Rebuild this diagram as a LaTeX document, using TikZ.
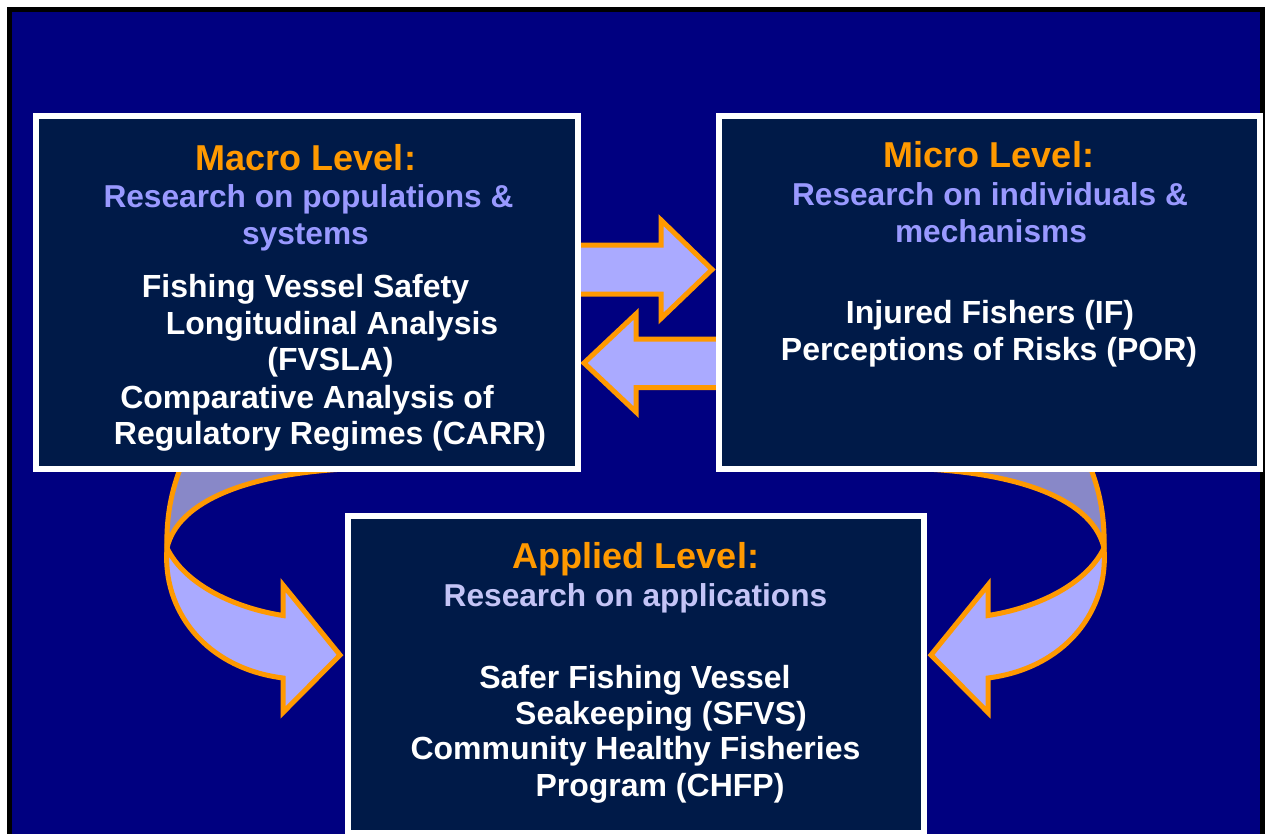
\documentclass[tikz,border=0pt]{standalone}
\usepackage{fontspec}
\setmainfont{Liberation Sans}

\definecolor{slidenavy}{HTML}{000080}
\definecolor{boxnavy}{HTML}{001A48}
\definecolor{levelorange}{HTML}{FF9900}
\definecolor{levellilac}{HTML}{9999FF}
\definecolor{appliedlilac}{HTML}{C4C4F6}
\definecolor{arrowlilac}{HTML}{AAAAFF}
\definecolor{arrowshade}{HTML}{8888C8}

\tikzset{
    levelbox/.style={draw=white, line width=4.5pt, fill=boxnavy, inner sep=0pt, outer sep=0pt},
    leveltitle/.style={text=levelorange, font=\fontsize{27}{32}\selectfont\bfseries, anchor=base, inner sep=0pt},
    levelsub/.style={text=levellilac, font=\fontsize{23.75}{28}\selectfont\bfseries, anchor=base, inner sep=0pt},
    project/.style={text=white, font=\fontsize{24}{28}\selectfont\bfseries, anchor=base, inner sep=0pt},
    arrowband/.style={draw=levelorange, line width=3.75pt, fill=arrowlilac, line join=miter},
}

% bent arrow round the left side, head pointing right
\newcommand{\bentarrow}{%
    \draw[arrowband, fill=arrowshade] (186,455) .. controls (172,485) and (166,515) .. (167,548)
        .. controls (178,500) and (250,474) .. (345,469) -- (345,455) -- cycle;
    \draw[arrowband] (167,548) .. controls (162,610) and (205,668) .. (283,678)
        -- (283,712.5) -- (340,655) -- (283,585) -- (283,615.5)
        .. controls (235,608) and (185,585) .. (167,548) -- cycle;
}

\begin{document}
\begin{tikzpicture}[x=0.75pt, y=-0.75pt]
    \useasboundingbox (0,0) rectangle (1265,833);
    \fill[white] (0,0) rectangle (1265,833);
    \fill[black] (7,7) rectangle (1265,850);
    \fill[slidenavy] (12,12) rectangle (1260,850);

    % curved arrows down to the applied level
    \bentarrow
    \begin{scope}[shift={(1271,0)}, xscale=-1]
        \bentarrow
    \end{scope}

    % arrows between macro and micro
    \draw[arrowband] (560,245) -- (661,245) -- (661,220) -- (712,269.5) -- (661,318.5) -- (661,294) -- (560,294) -- cycle;
    \draw[arrowband] (740,339) -- (636,339) -- (636,314) -- (584,363) -- (636,412) -- (636,387.5) -- (740,387.5) -- cycle;

    % the three boxes
    \node[levelbox, minimum width=406.5pt, minimum height=264.75pt] (macro) at (307,292.5) {};
    \node[levelbox, minimum width=405.75pt, minimum height=264.75pt] (micro) at (989.5,292.5) {};
    \node[levelbox, minimum width=432pt, minimum height=237.75pt] (applied) at (636,674.5) {};

    % macro level
    \node[leveltitle] (macrotitle) at (306,170.5) {Macro Level:};
    \node[levelsub] (macrosub) at (308.5,207.5) {Research on populations \&};
    \node[levelsub] (macrosubb) at (305.5,244.5) {systems};
    \node[project] (fvsla) at (305.5,297.5) {Fishing Vessel Safety};
    \node[project] (fvslab) at (332,334.5) {Longitudinal Analysis};
    \node[project] (fvslac) at (330.5,370) {(FVSLA)};
    \node[project] (carr) at (307,408) {Comparative Analysis of};
    \node[project] (carrb) at (330,444.5) {Regulatory Regimes (CARR)};

    % micro level
    \node[leveltitle] (microtitle) at (989,167.5) {Micro Level:};
    \node[levelsub] (microsub) at (990,205.5) {Research on individuals \&};
    \node[levelsub] (microsubb) at (991,242) {mechanisms};
    \node[project] (if) at (990,323) {Injured Fishers (IF)};
    \node[project] (por) at (989,360) {Perceptions of Risks (POR)};

    % applied level
    \node[leveltitle] (appliedtitle) at (636,568.5) {Applied Level:};
    \node[levelsub, text=appliedlilac] (appliedsub) at (635.5,606) {Research on applications};
    \node[project] (sfvs) at (635,688) {Safer Fishing Vessel};
    \node[project] (sfvsb) at (661,724.5) {Seakeeping (SFVS)};
    \node[project] (chfp) at (635.5,759.5) {Community Healthy Fisheries};
    \node[project] (chfpb) at (660,796.5) {Program (CHFP)};
\end{tikzpicture}
\end{document}
